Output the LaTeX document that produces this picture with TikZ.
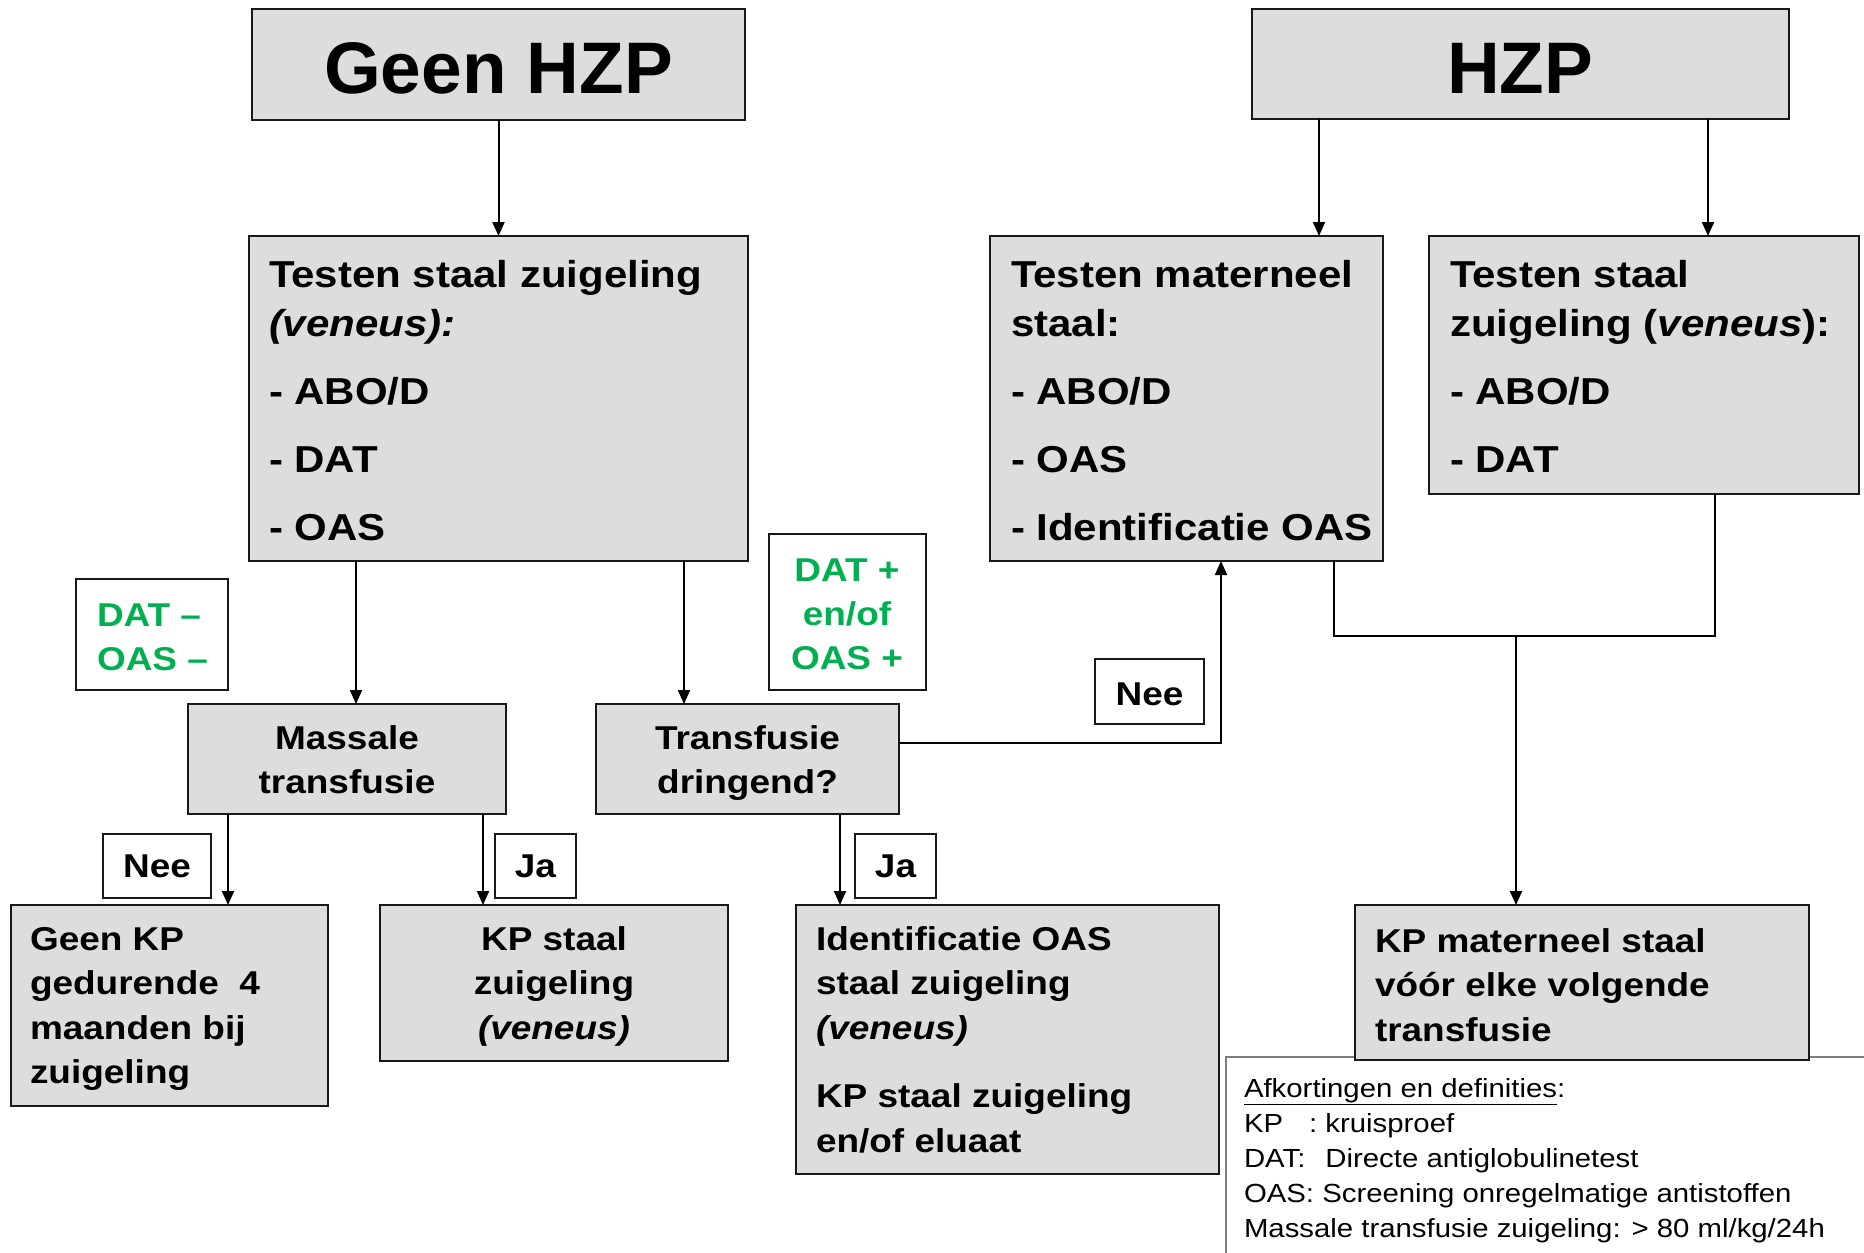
\documentclass[tikz,border=0pt]{standalone}
\usepackage{fontspec}
\setmainfont{Liberation Sans}
\newfontfamily\wide{Liberation Sans}[FakeStretch=1.12]
\usetikzlibrary{arrows.meta}
\definecolor{boxgray}{HTML}{DDDDDD}
\definecolor{labgreen}{HTML}{00B050}
\definecolor{leggray}{HTML}{7F7F7F}
\newcommand{\tlft}[1]{\begin{tabular}[t]{@{}l@{}}#1\end{tabular}}
\newcommand{\tctr}[1]{\begin{tabular}[t]{@{}c@{}}#1\end{tabular}}
\tikzset{
  box/.style={draw=black!90, line width=2.2pt, fill=boxgray, anchor=north west, inner sep=0pt, outer sep=0pt},
  labbox/.style={draw=black!90, line width=2pt, fill=white, anchor=north west, inner sep=0pt, outer sep=0pt},
  txtl/.style={inner sep=0pt, outer sep=0pt, anchor=base west},
  txtc/.style={inner sep=0pt, outer sep=0pt, anchor=base},
  titlefont/.style={font=\bfseries\fontsize{73}{80}\selectfont},
  topfont/.style={font=\wide\bfseries\fontsize{37.5}{49}\selectfont},
  lowfont/.style={font=\wide\bfseries\fontsize{33}{44.5}\selectfont},
  grnfont/.style={font=\wide\bfseries\fontsize{33}{44}\selectfont, text=labgreen},
  legfont/.style={font=\wide\fontsize{26.2}{35.2}\selectfont},
  con/.style={draw=black, line width=2pt},
  arr/.style={con, -{Triangle[length=14pt,width=12pt]}},
}
\begin{document}
\begin{tikzpicture}[x=1pt,y=-1pt]
\useasboundingbox (0,0) rectangle (1864,1253);
\fill[white] (0,0) rectangle (1864,1253);

% title boxes
\node[box, minimum width=493pt, minimum height=111pt] (geen) at (252,9) {};
\node[box, minimum width=537pt, minimum height=110pt] (hzp) at (1252,9) {};
\node[txtc, titlefont] (geent) at (498.5,93) {Geen HZP};
\node[txtc, titlefont] (hzpt) at (1520,93) {HZP};

% test boxes
\node[box, minimum width=499pt, minimum height=325pt] (tsl) at (249,236) {};
\node[box, minimum width=393pt, minimum height=325pt] (tm) at (990,236) {};
\node[box, minimum width=430pt, minimum height=258pt] (tsr) at (1429,236) {};
\node[txtl, topfont] (tslt) at (269,287) {\tlft{Testen staal zuigeling\\ \textit{(veneus):}\\[19pt] - ABO/D\\[19pt] - DAT\\[19pt] - OAS}};
\node[txtl, topfont] (tmt) at (1011,287) {\tlft{Testen materneel\\ staal:\\[19pt] - ABO/D\\[19pt] - OAS\\[19pt] - Identificatie OAS}};
\node[txtl, topfont] (tsrt) at (1450,287) {\tlft{Testen staal\\ zuigeling (\textit{veneus}):\\[19pt] - ABO/D\\[19pt] - DAT}};

% green labels
\node[labbox, minimum width=152pt, minimum height=111pt] (dmin) at (76,579) {};
\node[txtl, grnfont] (dmint) at (97,626) {\tlft{DAT –\\ OAS –}};
\node[labbox, minimum width=157pt, minimum height=156pt] (dplus) at (769,534) {};
\node[txtc, grnfont] (dplust) at (847,581) {\tctr{DAT +\\ en/of\\ OAS +}};

% middle boxes
\node[box, minimum width=318pt, minimum height=110pt] (mas) at (188,704) {};
\node[txtc, lowfont] (mast) at (347,749) {\tctr{Massale\\ transfusie}};
\node[box, minimum width=303pt, minimum height=110pt] (tra) at (596,704) {};
\node[txtc, lowfont] (trat) at (747.5,749) {\tctr{Transfusie\\ dringend?}};

% yes/no labels
\node[labbox, minimum width=108pt, minimum height=64pt] (nee1) at (103,834) {};
\node[txtc, lowfont] (nee1t) at (157,877) {Nee};
\node[labbox, minimum width=81pt, minimum height=64pt] (ja1) at (495,834) {};
\node[txtc, lowfont] (ja1t) at (535.5,877) {Ja};
\node[labbox, minimum width=81pt, minimum height=64pt] (ja2) at (855,834) {};
\node[txtc, lowfont] (ja2t) at (895.5,877) {Ja};
\node[labbox, minimum width=109pt, minimum height=65pt] (nee2) at (1095,659) {};
\node[txtc, lowfont] (nee2t) at (1149.5,705) {Nee};

% legend (drawn below the boxes)
\coordinate (legbl) at (1226,1253);
\coordinate (legtl) at (1226,1057);
\coordinate (legtr) at (1864,1057);
\draw[leggray, line width=1.3pt] (legbl) -- (legtl) -- (legtr);

% bottom boxes
\node[box, minimum width=317pt, minimum height=201pt] (gkp) at (11,905) {};
\node[txtl, lowfont] (gkpt) at (30,950) {\tlft{Geen KP\\ gedurende\ \ 4\\ maanden bij\\ zuigeling}};
\node[box, minimum width=348pt, minimum height=156pt] (kps) at (380,905) {};
\node[txtc, lowfont] (kpst) at (554,950) {\tctr{KP staal\\ zuigeling\\ \textit{(veneus)}}};
\node[box, minimum width=423pt, minimum height=269pt] (ide) at (796,905) {};
\node[txtl, lowfont] (idet) at (816,950) {\tlft{Identificatie OAS\\ staal zuigeling\\ \textit{(veneus)}\\[24pt] KP staal zuigeling\\ en/of eluaat}};
\node[box, minimum width=454pt, minimum height=155pt] (kpm) at (1355,905) {};
\node[txtl, lowfont] (kpmt) at (1375,952) {\tlft{KP materneel staal\\ vóór elke volgende\\ transfusie}};

\node[txtl, legfont] (legt) at (1244,1097) {\tlft{\underline{Afkortingen en definities}:\\ KP\hspace{26pt}: kruisproef\\ DAT:\hspace{20pt}Directe antiglobulinetest\\ OAS: Screening onregelmatige antistoffen\\ Massale transfusie zuigeling: > 80 ml/kg/24h}};

% connectors
\coordinate (xa) at (1319,0);
\coordinate (xb) at (1708,0);
\coordinate (xc) at (356,0);
\coordinate (xd) at (684,0);
\coordinate (xe) at (228,0);
\coordinate (xf) at (483,0);
\coordinate (xg) at (840,0);
\coordinate (neec) at (1221,743);
\coordinate (jl) at (1334,636);
\coordinate (jr) at (1715,636);
\coordinate (jm) at (1516,636);

\draw[arr] (geen.south) -- (tsl.north);
\draw[arr] (xa |- hzp.south) -- (xa |- tm.north);
\draw[arr] (xb |- hzp.south) -- (xb |- tsr.north);
\draw[arr] (xc |- tsl.south) -- (xc |- mas.north);
\draw[arr] (xd |- tsl.south) -- (xd |- tra.north);
\draw[arr] (xe |- mas.south) -- (xe |- gkp.north);
\draw[arr] (xf |- mas.south) -- (xf |- kps.north);
\draw[arr] (xg |- tra.south) -- (xg |- ide.north);
\draw[arr] (tra.east |- neec) -- (neec) -- (neec |- tm.south);
\draw[con] (jl |- tm.south) -- (jl) -- (jr) -- (jr |- tsr.south);
\draw[arr] (jm) -- (jm |- kpm.north);
\end{tikzpicture}
\end{document}
